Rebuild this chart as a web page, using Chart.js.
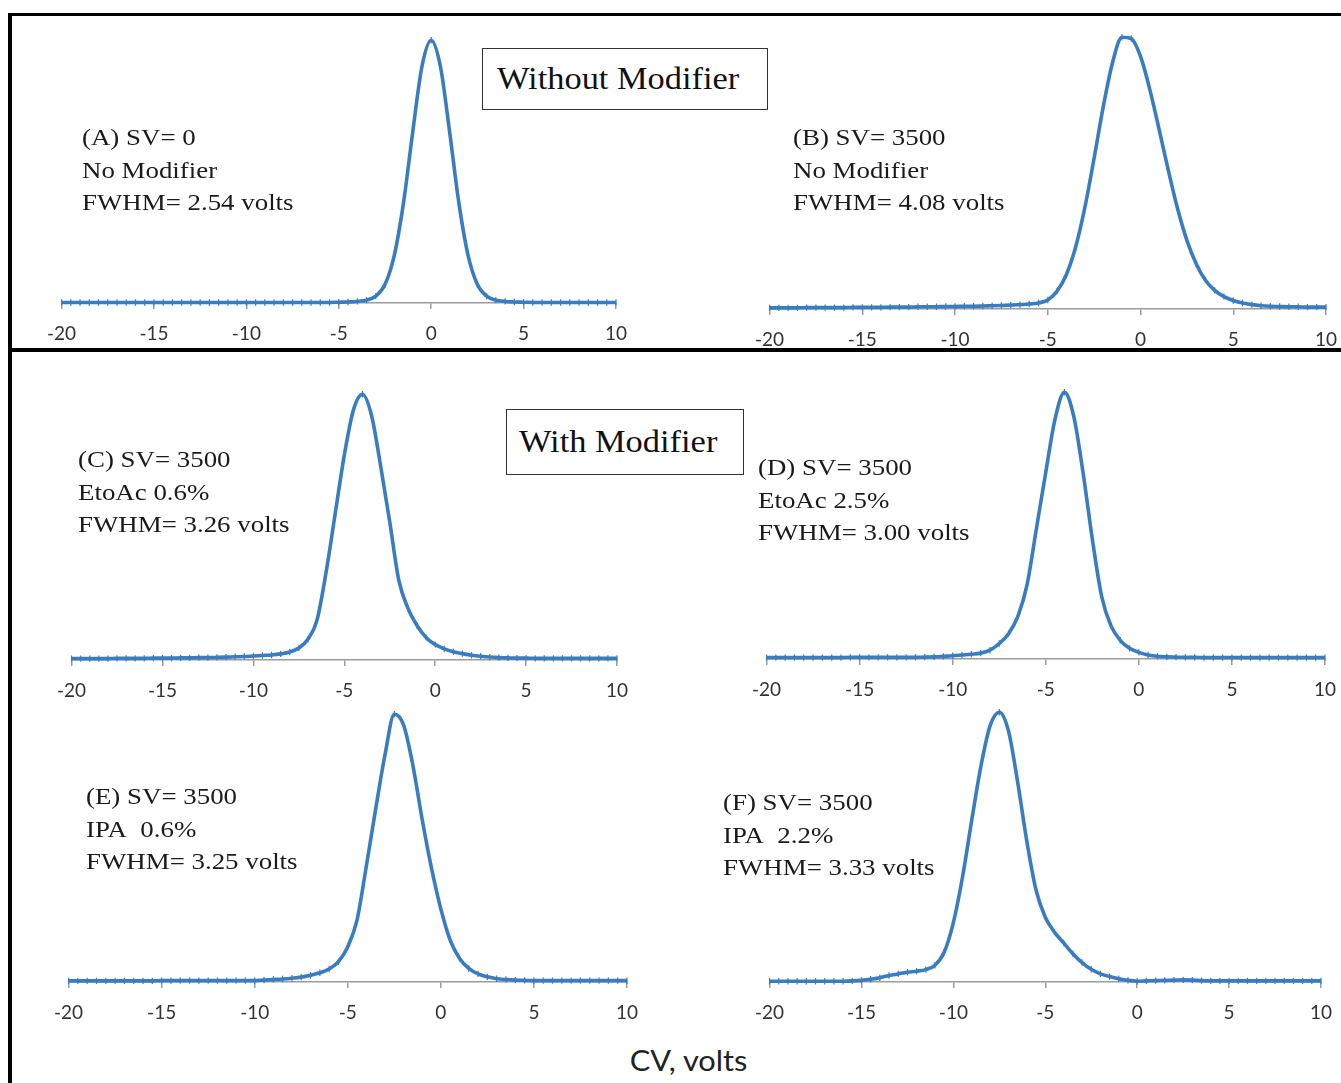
<!DOCTYPE html>
<html>
<head>
<meta charset="utf-8">
<script src="https://cdn.jsdelivr.net/npm/chart.js@4.4.1/dist/chart.umd.min.js"></script>
<style>
  html, body { margin: 0; padding: 0; background: #fff; overflow: hidden; }
  #page { position: relative; width: 1341px; height: 1083px; }
  .frame { position: absolute; background: #000; }
  .panel { position: absolute; }
  .note {
    position: absolute; font-family: 'Liberation Serif', 'Times New Roman', serif;
    font-size: 24px; line-height: 32.5px; color: #1a1a1a; white-space: nowrap;
    transform: scaleX(1.12); transform-origin: 0 0;
  }
  .titlebox {
    position: absolute; border: 1.5px solid #333; background: #fff; box-sizing: border-box;
  }
  .titlebox span {
    position: absolute; font-family: 'Liberation Serif', 'Times New Roman', serif;
    font-size: 31px; color: #111; white-space: nowrap; transform-origin: 0 50%;
  }
  #xtitle {
    position: absolute; font-family: Lato, 'Open Sans', sans-serif; font-size: 28px;
    color: #222; white-space: nowrap; transform: scaleX(1.1); transform-origin: 50% 50%;
  }
</style>
</head>
<body>
<div id="page">
  <div class="frame" style="left:8px; top:13px; width:1333px; height:3px;"></div>
  <div class="frame" style="left:8px; top:13px; width:4px; height:1070px;"></div>
  <div class="frame" style="left:8px; top:348px; width:1333px; height:4px;"></div>
</div>
<script>
// CV grid (volts) shared by all six traces
const cv = [-20, -19.5, -19, -18.5, -18, -17.5, -17, -16.5, -16, -15.5,
  -15, -14.5, -14, -13.5, -13, -12.5, -12, -11.5, -11, -10.5,
  -10, -9.5, -9, -8.5, -8, -7.5, -7, -6.5, -6, -5.5,
  -5, -4.5, -4, -3.5, -3, -2.5, -2, -1.5, -1, -0.5,
  0, 0.5, 1, 1.5, 2, 2.5, 3, 3.5, 4, 4.5,
  5, 5.5, 6, 6.5, 7, 7.5, 8, 8.5, 9, 9.5, 10];

const xTicks = [-20, -15, -10, -5, 0, 5, 10];

// normalised ion intensity
const sigA = [0.002, 0.002, 0.002, 0.002, 0.002, 0.002, 0.002, 0.002, 0.002, 0.002,
  0.002, 0.002, 0.002, 0.002, 0.002, 0.002, 0.002, 0.002, 0.002, 0.002,
  0.002, 0.002, 0.002, 0.002, 0.002, 0.002, 0.002, 0.002, 0.002, 0.002,
  0.003, 0.004, 0.006, 0.011, 0.026, 0.07, 0.18, 0.38, 0.65, 0.9,
  1.0, 0.9, 0.65, 0.38, 0.18, 0.07, 0.026, 0.011, 0.006, 0.004,
  0.003, 0.002, 0.002, 0.002, 0.002, 0.002, 0.002, 0.002, 0.002, 0.002, 0.002];

const sigB = [0.004, 0.004, 0.004, 0.004, 0.005, 0.005, 0.005, 0.005, 0.005, 0.006,
  0.006, 0.006, 0.006, 0.007, 0.007, 0.007, 0.008, 0.008, 0.008, 0.009,
  0.009, 0.01, 0.01, 0.011, 0.012, 0.013, 0.014, 0.016, 0.018, 0.022,
  0.033, 0.065, 0.125, 0.225, 0.37, 0.55, 0.74, 0.9, 0.99, 0.985,
  0.92, 0.8, 0.655, 0.505, 0.365, 0.25, 0.165, 0.105, 0.068, 0.045,
  0.031, 0.022, 0.016, 0.012, 0.01, 0.009, 0.008, 0.008, 0.007, 0.007, 0.007];

const sigC = [0.005, 0.005, 0.005, 0.005, 0.005, 0.006, 0.006, 0.006, 0.006, 0.007,
  0.007, 0.007, 0.008, 0.008, 0.009, 0.009, 0.01, 0.011, 0.012, 0.013,
  0.015, 0.017, 0.019, 0.023, 0.03, 0.045, 0.078, 0.15, 0.33, 0.55,
  0.77, 0.94, 1.0, 0.92, 0.73, 0.52, 0.3, 0.195, 0.13, 0.085,
  0.058, 0.042, 0.031, 0.024, 0.018, 0.014, 0.011, 0.009, 0.008, 0.007,
  0.007, 0.006, 0.006, 0.006, 0.006, 0.006, 0.006, 0.006, 0.006, 0.006, 0.006];

const sigD = [0.005, 0.005, 0.005, 0.005, 0.005, 0.005, 0.005, 0.005, 0.005, 0.006,
  0.006, 0.006, 0.006, 0.006, 0.006, 0.006, 0.006, 0.007, 0.008, 0.01,
  0.012, 0.015, 0.018, 0.022, 0.033, 0.058, 0.095, 0.16, 0.28, 0.49,
  0.7, 0.9, 1.0, 0.91, 0.7, 0.45, 0.235, 0.125, 0.07, 0.04,
  0.025, 0.015, 0.01, 0.008, 0.007, 0.006, 0.006, 0.005, 0.005, 0.005,
  0.005, 0.005, 0.005, 0.005, 0.005, 0.005, 0.005, 0.005, 0.005, 0.005, 0.005];

const sigE = [0.004, 0.004, 0.004, 0.004, 0.004, 0.004, 0.004, 0.004, 0.004, 0.004,
  0.005, 0.005, 0.005, 0.005, 0.005, 0.005, 0.005, 0.005, 0.005, 0.005,
  0.005, 0.007, 0.009, 0.011, 0.014, 0.018, 0.025, 0.034, 0.048, 0.075,
  0.13, 0.23, 0.43, 0.64, 0.84, 0.99, 0.95, 0.8, 0.6, 0.42,
  0.27, 0.155, 0.088, 0.05, 0.03, 0.019, 0.012, 0.009, 0.007, 0.006,
  0.005, 0.005, 0.005, 0.005, 0.005, 0.005, 0.005, 0.005, 0.005, 0.005, 0.005];

const sigF = [0.003, 0.003, 0.003, 0.003, 0.003, 0.003, 0.003, 0.003, 0.003, 0.004,
  0.006, 0.01, 0.016, 0.024, 0.03, 0.036, 0.04, 0.046, 0.062, 0.11,
  0.22, 0.39, 0.6, 0.8, 0.95, 1.0, 0.93, 0.74, 0.52, 0.34,
  0.24, 0.185, 0.145, 0.105, 0.072, 0.047, 0.03, 0.02, 0.012, 0.006,
  0.003, 0.004, 0.005, 0.006, 0.007, 0.008, 0.007, 0.005, 0.004, 0.004,
  0.004, 0.004, 0.004, 0.004, 0.004, 0.004, 0.004, 0.004, 0.004, 0.004, 0.004];

const notesA = ['(A) SV= 0', 'No Modifier', 'FWHM= 2.54 volts'];
const notesB = ['(B) SV= 3500', 'No Modifier', 'FWHM= 4.08 volts'];
const notesC = ['(C) SV= 3500', 'EtoAc 0.6%', 'FWHM= 3.26 volts'];
const notesD = ['(D) SV= 3500', 'EtoAc 2.5%', 'FWHM= 3.00 volts'];
const notesE = ['(E) SV= 3500', 'IPA\u00a0 0.6%', 'FWHM= 3.25 volts'];
const notesF = ['(F) SV= 3500', 'IPA\u00a0 2.2%', 'FWHM= 3.33 volts'];

const BLUE = '#3a7cc0';
const AXIS = '#9c9c9c';

// where each small plot sits on the page (x of -20 / 10, y of peak top / axis)
const panels = [
  { sig: sigA, notes: notesA, x0: 60,  x1: 616,  top: 37,  axis: 303, nx: 82,  ny: 121 },
  { sig: sigB, notes: notesB, x0: 768, x1: 1326, top: 34,  axis: 309, nx: 793, ny: 121 },
  { sig: sigC, notes: notesC, x0: 70,  x1: 617,  top: 391, axis: 660, nx: 78,  ny: 443 },
  { sig: sigD, notes: notesD, x0: 765, x1: 1325, top: 389, axis: 659, nx: 758, ny: 451 },
  { sig: sigE, notes: notesE, x0: 67,  x1: 627,  top: 711, axis: 982, nx: 86,  ny: 780 },
  { sig: sigF, notes: notesF, x0: 768, x1: 1321, top: 709, axis: 982, nx: 723, ny: 786 },
];

const page = document.getElementById('page');
const padL = 26, padR = 26, padT = 2, axisH = 46;

panels.forEach((p) => {
  const w = p.x1 - p.x0 + padL + padR;
  const h = padT + (p.axis - p.top) + axisH;
  const wrap = document.createElement('div');
  wrap.className = 'panel';
  wrap.style.left = (p.x0 - padL) + 'px';
  wrap.style.top = (p.top - padT) + 'px';
  const canvas = document.createElement('canvas');
  canvas.width = w;
  canvas.height = h;
  canvas.style.width = w + 'px';
  canvas.style.height = h + 'px';
  wrap.appendChild(canvas);
  page.appendChild(wrap);

  new Chart(canvas.getContext('2d'), {
    type: 'line',
    data: {
      datasets: [{
        data: cv.map((x, i) => ({ x: x, y: p.sig[i] })),
        borderColor: BLUE,
        borderWidth: 3.6,
        pointStyle: 'line',
        pointRotation: 90,
        pointRadius: 3.2,
        pointBorderWidth: 1.2,
        pointBorderColor: BLUE,
        pointBackgroundColor: BLUE,
        cubicInterpolationMode: 'monotone',
        fill: false,
        clip: 8,
      }],
    },
    options: {
      responsive: false,
      animation: false,
      devicePixelRatio: 1,
      layout: { padding: { left: padL, right: padR, top: padT, bottom: 0 } },
      plugins: { legend: { display: false }, tooltip: { enabled: false } },
      scales: {
        x: {
          type: 'linear',
          min: -20,
          max: 10,
          afterBuildTicks: (scale) => { scale.ticks = xTicks.map((v) => ({ value: v })); },
          afterFit: (scale) => { scale.height = axisH; },
          ticks: {
            color: '#333333',
            font: { family: 'Lato, "Open Sans", sans-serif', size: 19 },
            padding: 13,
            maxRotation: 0,
            autoSkip: false,
          },
          grid: { display: true, drawOnChartArea: false, drawTicks: true, tickLength: 6, color: AXIS, lineWidth: 1.5 },
          border: { display: true, color: AXIS, width: 1.5 },
        },
        y: { display: false, min: 0, max: Math.max(...p.sig) },
      },
    },
  });

  const note = document.createElement('div');
  note.className = 'note';
  note.style.left = p.nx + 'px';
  note.style.top = p.ny + 'px';
  note.innerHTML = p.notes.join('<br>');
  page.appendChild(note);
});

// group labels
function titleBox(text, left, top, w, h, tx) {
  const box = document.createElement('div');
  box.className = 'titlebox';
  box.style.left = left + 'px';
  box.style.top = top + 'px';
  box.style.width = w + 'px';
  box.style.height = h + 'px';
  const s = document.createElement('span');
  s.textContent = text;
  s.style.left = tx + 'px';
  s.style.top = '50%';
  s.style.transform = 'translateY(-50%) scaleX(1.11)';
  box.appendChild(s);
  page.appendChild(box);
}
titleBox('Without Modifier', 482, 48, 286, 62, 14);
titleBox('With Modifier', 506, 409, 238, 66, 12);

const xt = document.createElement('div');
xt.id = 'xtitle';
xt.textContent = 'CV, volts';
page.appendChild(xt);
xt.style.left = (688 - xt.offsetWidth / 2) + 'px';
xt.style.top = (1060 - xt.offsetHeight / 2) + 'px';
</script>
</body>
</html>
